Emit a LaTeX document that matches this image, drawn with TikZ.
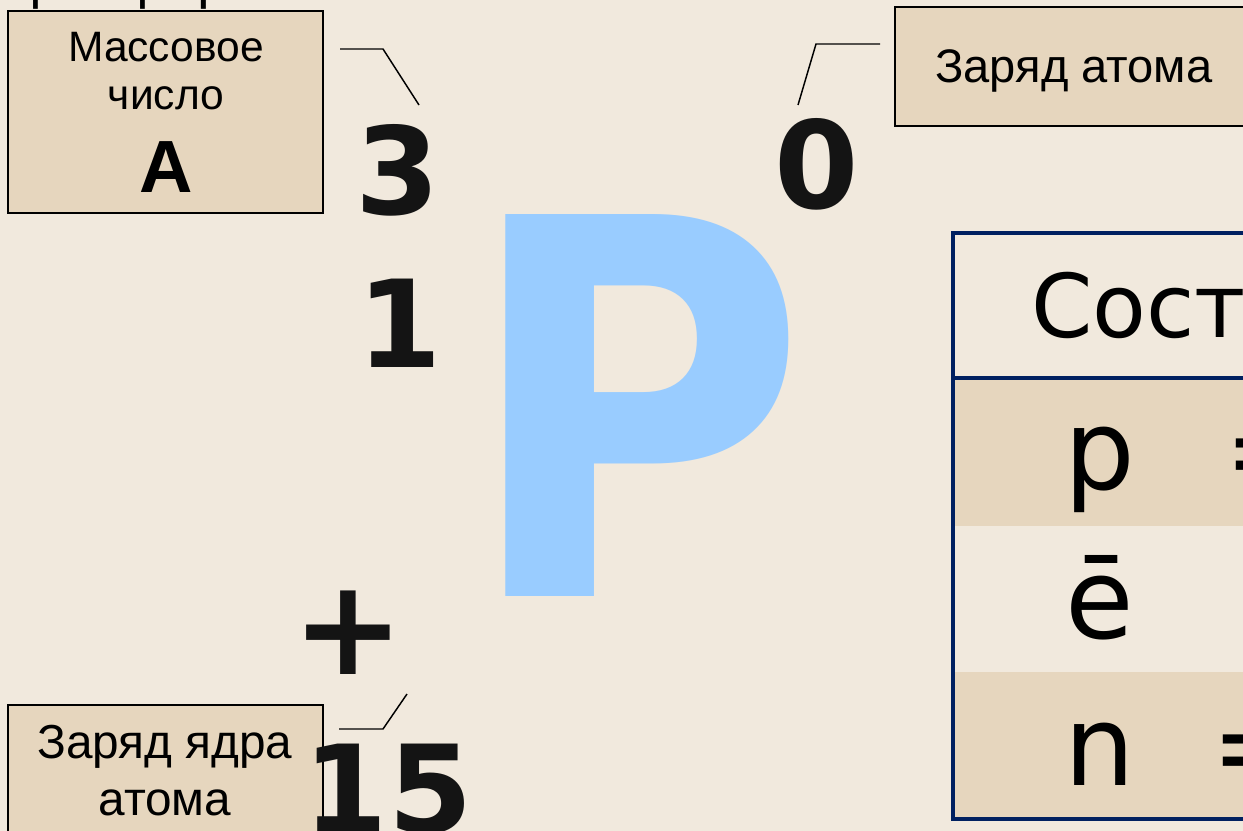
\documentclass[tikz,border=0pt]{standalone}
\usepackage{fontspec}
\setmainfont{Liberation Sans}
\newfontfamily\dvs{DejaVu Sans}
\definecolor{bgc}{RGB}{241,233,221}
\definecolor{boxc}{RGB}{230,214,190}
\definecolor{navyc}{RGB}{0,32,96}
\definecolor{pblue}{RGB}{153,204,255}
\definecolor{digc}{RGB}{20,20,20}
\tikzset{
  calloutbox/.style={draw=black, line width=1.5pt, fill=boxc},
  calloutline/.style={draw=black, line width=1.1pt},
  lbl/.style={inner sep=0pt, anchor=base, text=black},
  digit/.style={inner sep=0pt, anchor=base, text=digc, font=\dvs\bfseries\fontsize{91pt}{100pt}\selectfont},
  tcell/.style={inner sep=0pt, text=black, font=\dvs\fontsize{83.6pt}{90pt}\selectfont},
  tline/.style={draw=navyc, line width=2.6pt}
}
\begin{document}
\begin{tikzpicture}[x=0.75pt,y=-0.75pt]
\useasboundingbox (0,0) rectangle (1243,831);
\fill[bgc] (0,0) rectangle (1243,831);
% clipped title above
\node[inner sep=0pt, anchor=base west, font=\fontsize{42.75pt}{48pt}\selectfont] (title) at (12,-2) {фосфора};
% callout boxes
\path[calloutbox] (8,11) rectangle (323,213);
\node[lbl, font=\fontsize{31.9pt}{36pt}\selectfont] (mass1) at (166,62) {Массовое};
\node[lbl, font=\fontsize{31.9pt}{36pt}\selectfont] (mass2) at (166,110) {число};
\node[lbl, font=\bfseries\fontsize{55.5pt}{60pt}\selectfont] (massA) at (166,193) {A};
\path[calloutbox] (895,7) rectangle (1270,126);
\node[lbl, anchor=base west, font=\fontsize{35.3pt}{40pt}\selectfont] (charge) at (935,83) {Заряд атома};
\path[calloutbox] (8,705) rectangle (323,850);
\node[lbl, font=\fontsize{35.8pt}{40pt}\selectfont] (nuc1) at (165,758) {Заряд ядра};
\node[lbl, font=\fontsize{35.8pt}{40pt}\selectfont] (nuc2) at (165,815) {атома};
% big symbol
\node[inner sep=0pt, anchor=base, text=pblue, font=\dvs\bfseries\fontsize{393pt}{400pt}\selectfont] (P) at (635,596) {\scalebox{0.9}[1]{P}};
% digits
\node[digit] (d3) at (398,215) {3};
\node[digit] (d1) at (400,367) {1};
\node[digit] (d0) at (817,209) {0};
\node[digit, font=\dvs\bfseries\fontsize{100pt}{110pt}\selectfont] (plus) at (348,674) {+};
\node[digit] (d15) at (388,832) {15};
% callout lines
\coordinate (a1) at (340,49); \coordinate (a2) at (383,49); \coordinate (a3) at (419,105);
\draw[calloutline] (a1) -- (a2) -- (a3);
\coordinate (b1) at (880,44); \coordinate (b2) at (816,44); \coordinate (b3) at (798,105);
\draw[calloutline] (b1) -- (b2) -- (b3);
\coordinate (c1) at (339,729); \coordinate (c2) at (383,729); \coordinate (c3) at (407,694);
\draw[calloutline] (c1) -- (c2) -- (c3);
% table
\fill[boxc] (953,378) rectangle (1300,526);
\fill[boxc] (953,672) rectangle (1300,819);
\draw[tline] (1300,233) -- (953,233) -- (953,819) -- (1300,819);
\draw[tline] (953,378) -- (1300,378);
\node[inner sep=0pt, anchor=base west, text=black, font=\dvs\fontsize{66pt}{70pt}\selectfont] (head) at (1031,337) {Состав};
\node[tcell, anchor=base] (tp) at (1100,489) {p};
\node[tcell, anchor=base] (te) at (1100,638) {ē};
\node[tcell, anchor=base] (tn) at (1100,785) {n};
\node[tcell, anchor=base west] (eq1) at (1224,489) {=};
\node[tcell, anchor=base west] (eq3) at (1211,785) {=};
\end{tikzpicture}
\end{document}
